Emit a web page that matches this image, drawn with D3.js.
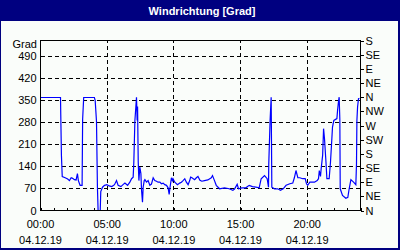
<!DOCTYPE html>
<html>
<head>
<meta charset="utf-8">
<script src="https://cdn.jsdelivr.net/npm/d3@7"></script>
<style>
  body { margin: 0; background: #fff; }
  svg { display: block; }
  text { font-family: "Liberation Sans", Arial, sans-serif; font-size: 11px; fill: #000; }
</style>
</head>
<body>
<div id="chart"></div>
<script>
var W = 400, H = 250;
var title = "Windrichtung [Grad]";
var yUnit = "Grad";
var dateLabel = "04.12.19";

// measurements: hour of day, direction in degrees
var hours = [0.00, 1.50, 1.52, 1.57, 1.63, 1.85, 2.04, 2.17, 2.30, 2.41, 2.54, 2.67, 2.77, 2.84, 2.97, 3.12, 3.16, 3.24,
  4.04, 4.10, 4.20, 4.27, 4.32, 4.48, 4.52, 4.65, 4.80, 4.98, 5.15, 5.35, 5.55, 5.70, 5.82, 6.03, 6.21, 6.33, 6.53, 6.70,
  6.83, 6.95, 7.00, 7.08, 7.15, 7.20, 7.25, 7.28, 7.33, 7.38, 7.45, 7.53, 7.58, 7.65, 7.70, 7.78, 7.83, 7.95, 8.07, 8.20,
  8.32, 8.45, 8.57, 8.70, 8.82, 8.95, 9.07, 9.20, 9.32, 9.45, 9.57, 9.65, 9.70, 9.82, 9.89, 9.94, 10.07, 10.27, 10.44,
  10.57, 10.69, 10.82, 10.94, 11.07, 11.19, 11.26, 11.36, 11.56, 11.69, 11.81, 11.96, 12.10, 12.30, 12.55, 12.81, 12.90,
  13.05, 13.18, 13.43, 13.80, 14.15, 14.43, 14.55, 14.75, 14.85, 15.10, 15.40, 15.65, 15.90, 16.15, 16.40, 16.55, 16.80,
  17.00, 17.10, 17.12, 17.22, 17.30, 17.35, 17.55, 17.79, 18.00, 18.20, 18.42, 18.70, 18.92, 19.04, 19.16, 19.30, 19.45,
  19.66, 19.85, 19.95, 20.04, 20.20, 20.55, 20.75, 20.85, 20.91, 21.00, 21.05, 21.16, 21.23, 21.30, 21.41, 21.48, 21.65,
  21.75, 21.83, 21.90, 22.00, 22.23, 22.28, 22.36, 22.40, 22.45, 22.48, 22.65, 22.90, 23.05, 23.15, 23.28, 23.48, 23.65,
  23.70, 23.73, 23.78, 23.85, 23.92];
var degrees = [359, 359, 305, 175, 108, 104, 100, 95, 104, 102, 98, 97, 117, 95, 80, 80, 290, 359,
  359, 350, 283, 74, 0, 0, 60, 74, 80, 82, 78, 76, 82, 95, 80, 76, 83, 87, 80, 90,
  101, 106, 154, 286, 329, 360, 286, 330, 154, 95, 138, 117, 64, 26, 74, 95, 98, 90, 95, 80,
  84, 104, 95, 93, 90, 90, 85, 87, 82, 80, 72, 51, 69, 104, 95, 101, 90, 82, 87,
  90, 95, 101, 90, 82, 95, 106, 104, 98, 104, 108, 96, 93, 95, 97, 104, 111,
  95, 80, 69, 72, 69, 64, 68, 83, 69, 72, 72, 80, 76, 74, 72, 101, 111,
  101, 74, 148, 286, 360, 74, 69, 69, 64, 69, 80, 85, 87, 104, 127, 104, 104,
  101, 101, 85, 80, 90, 90, 95, 101, 127, 108, 133, 175, 260, 228, 154, 101, 101,
  154, 212, 265, 286, 292, 318, 350, 360, 290, 69, 48, 39, 42, 69, 98, 90, 82,
  148, 286, 329, 355, 356];

var yTicks = [0, 70, 140, 210, 280, 350, 420, 490];
var dirTicks = [0, 45, 90, 135, 180, 225, 270, 315, 360, 405, 450, 495, 540];
var dirLabels = ["N", "NE", "E", "SE", "S", "SW", "W", "NW", "N", "NE", "E", "SE", "S"];
var hourTicks = d3.range(0, 25);
var xLabelHours = [0, 5, 10, 15, 20];
var xLabels = ["00:00", "05:00", "10:00", "15:00", "20:00"];

var svg = d3.select("#chart").append("svg").attr("width", W).attr("height", H);

// frame of the window
svg.append("rect").attr("width", W).attr("height", H).attr("fill", "#000080");
svg.append("rect").attr("x", 1).attr("y", 21).attr("width", W - 3).attr("height", H - 23).attr("fill", "#fafdfa");
svg.append("text").attr("x", 202).attr("y", 15).attr("text-anchor", "middle")
  .style("fill", "#fff").style("font-weight", "bold").style("font-size", "11px")
  .text(title);

var x = d3.scaleLinear().domain([0, 24]).range([40.5, 360.5]);
var y = d3.scaleLinear().domain([0, 540]).range([210.5, 40.5]);

// grid
var grid = svg.append("g").attr("stroke", "#000").attr("stroke-dasharray", "4,3").attr("shape-rendering", "crispEdges");
grid.selectAll(".hg").data(yTicks.filter(function(d) { return d > 0; })).enter().append("line")
  .attr("x1", x(0)).attr("x2", x(24)).attr("y1", function(d) { return y(d); }).attr("y2", function(d) { return y(d); });
grid.selectAll(".vg").data(xLabelHours.filter(function(d) { return d > 0; })).enter().append("line")
  .attr("y1", y(0)).attr("y2", y(540)).attr("x1", function(d) { return x(d); }).attr("x2", function(d) { return x(d); });

// data line
var line = d3.line().x(function(d, i) { return x(hours[i]); }).y(function(d) { return y(d); });
svg.append("path").datum(degrees).attr("d", line).attr("fill", "none").attr("stroke", "#0000ff").attr("stroke-width", 1.2);

// plot border
svg.append("rect").attr("x", x(0)).attr("y", y(540)).attr("width", x(24) - x(0)).attr("height", y(0) - y(540))
  .attr("fill", "none").attr("stroke", "#000").attr("shape-rendering", "crispEdges");

// left axis labels
var left = svg.append("g").attr("transform", "translate(" + x(0) + ",0)")
  .call(d3.axisLeft(y).tickValues(yTicks).tickSize(0).tickPadding(4));
left.select(".domain").remove();
left.selectAll("text").style("font-family", null).style("font-size", null).attr("font-family", null).attr("font-size", null);
svg.append("text").attr("x", 37).attr("y", 48).attr("text-anchor", "end").text(yUnit);

// right axis: compass directions
var right = svg.append("g").attr("transform", "translate(" + x(24) + ",0)")
  .call(d3.axisRight(y).tickValues(dirTicks).tickSize(3).tickPadding(2).tickFormat(function(d, i) { return dirLabels[i]; }));
right.select(".domain").remove();
right.attr("font-family", null).attr("font-size", null).attr("shape-rendering", "crispEdges");

// bottom axis: hour ticks inside
var bottom = svg.append("g").attr("transform", "translate(0," + y(0) + ")")
  .call(d3.axisBottom(x).tickValues(hourTicks).tickSize(-3).tickFormat(""));
bottom.select(".domain").remove();
bottom.attr("shape-rendering", "crispEdges");
left.attr("font-family", null).attr("font-size", null);

var xl = svg.append("g").selectAll("g").data(xLabelHours).enter().append("g")
  .attr("transform", function(d) { return "translate(" + x(d) + ",0)"; });
xl.append("text").attr("y", 228).attr("text-anchor", "middle").text(function(d, i) { return xLabels[i]; });
xl.append("text").attr("y", 244).attr("text-anchor", "middle").text(dateLabel);
</script>
</body>
</html>
